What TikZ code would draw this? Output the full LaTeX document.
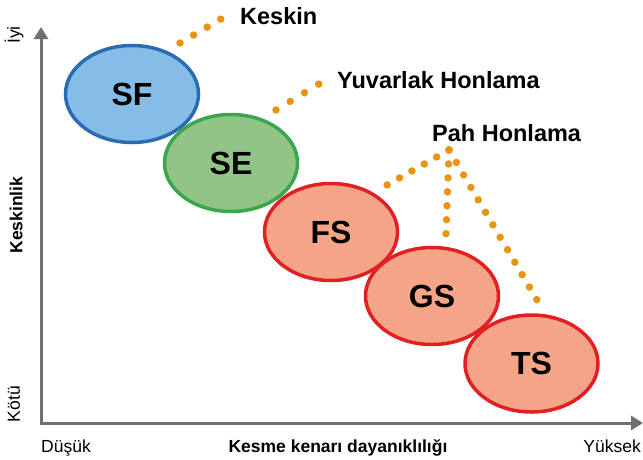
\documentclass[tikz,border=0pt]{standalone}
\usepackage{fontspec}
\setmainfont{Liberation Sans}
\usetikzlibrary{arrows.meta, shapes.geometric}

\definecolor{axisgray}{RGB}{112,112,112}
\definecolor{dotorange}{RGB}{233,149,18}
\definecolor{sfblue}{RGB}{133,189,232}
\definecolor{sfedge}{RGB}{42,108,180}
\definecolor{segreen}{RGB}{146,196,134}
\definecolor{seedge}{RGB}{58,166,80}
\definecolor{salmon}{RGB}{244,165,136}
\definecolor{rededge}{RGB}{226,32,36}

\tikzset{
    axisline/.style={draw=axisgray, line width=3pt, -{Triangle[length=12pt,width=14pt]}},
    blob/.style={ellipse, line width=3.5pt, inner sep=0pt, minimum width=133pt,
        minimum height=97pt, font=\fontsize{32}{36}\selectfont\bfseries},
    dotline/.style={draw=dotorange, line width=7.5pt, line cap=round, dash pattern=on 0pt off #1},
    dotline/.default=14.5pt,
    tag/.style={anchor=base west, inner sep=0pt, font=\fontsize{23.5}{28}\selectfont\bfseries},
    axistext/.style={inner sep=0pt, font=\fontsize{17.5}{21}\selectfont}
}

\begin{document}
\begin{tikzpicture}[x=1pt, y=-1pt]
    \useasboundingbox (0,0) rectangle (643,459);

    % axes
    \coordinate (origin) at (41,423);
    \coordinate (ytop) at (41,27);
    \coordinate (xend) at (643,423);
    \draw[axisline] (origin) -- (ytop);
    \draw[axisline] ([xshift=-1.5pt]origin) -- (xend);

    \node[axistext, rotate=90] (good) at (14,35) {İyi};
    \node[axistext, rotate=90] (bad) at (14,404) {Kötü};
    \node[axistext, rotate=90, font=\fontsize{17.5}{21}\selectfont\bfseries] (sharp) at (16,215) {Keskinlik};
    \node[axistext, anchor=base west] (low) at (41,452) {Düşük};
    \node[axistext, anchor=base, font=\fontsize{17.5}{21}\selectfont\bfseries] (tough) at (338,452) {Kesme kenarı dayanıklılığı};
    \node[axistext, anchor=base east] (high) at (641,452) {Yüksek};

    % edge preparations
    \node[blob, draw=sfedge, fill=sfblue] (sf) at (132,94) {SF};
    \node[blob, draw=seedge, fill=segreen] (se) at (231,163) {SE};
    \node[blob, draw=rededge, fill=salmon] (fs) at (331,232) {FS};
    \node[blob, draw=rededge, fill=salmon] (gs) at (432,296) {GS};
    \node[blob, draw=rededge, fill=salmon] (ts) at (531.5,363.5) {TS};

    % dotted leaders to the labels
    \coordinate (k1) at (180,43);
    \coordinate (k2) at (221,19);
    \coordinate (y1) at (276,110);
    \coordinate (y2) at (319,84);
    \coordinate (apex) at (449,150);
    \coordinate (p1) at (387,185);
    \coordinate (p2) at (446,234);
    \coordinate (p3) at (537,300);
    \draw[dotline=15.75pt] (k1) -- (k2);
    \draw[dotline=16.65pt] (y1) -- (y2);
    \draw[dotline=14.2pt] (apex) -- (p1);
    \draw[dotline=13.95pt] (apex) -- (p2);
    \draw[dotline=14.45pt] (apex) -- (p3);

    \node[tag] (sharpedge) at (240,24) {Keskin};
    \node[tag] (round) at (337,88) {Yuvarlak Honlama};
    \node[tag] (chamfer) at (432,141) {Pah Honlama};
\end{tikzpicture}
\end{document}
